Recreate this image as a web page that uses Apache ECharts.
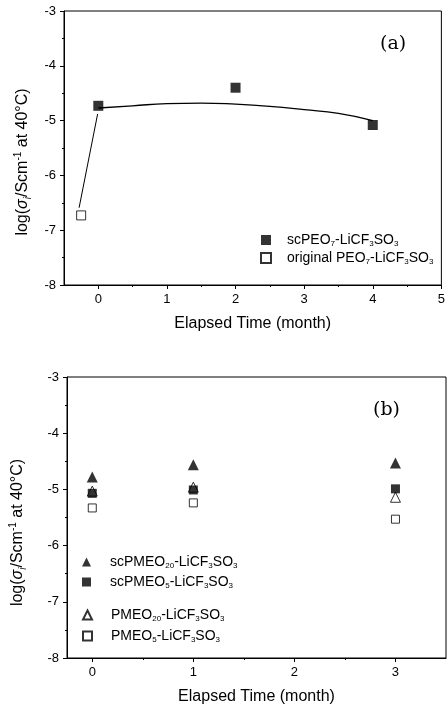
<!DOCTYPE html>
<html>
<head>
<meta charset="utf-8">
<script src="https://cdn.jsdelivr.net/npm/echarts@6/dist/echarts.min.js"></script>
<style>
html,body{margin:0;padding:0;background:#fff;}
#c{width:448px;height:707px;}
</style>
</head>
<body>
<div id="c"></div>
<script>
// ---- Panel (a) data ----
const aScX = [0, 2, 4];
const aScY = [-4.73, -4.40, -5.08];
const aOrigX = [-0.25];
const aOrigY = [-6.73];
const aFitX = [0, 0.5, 1, 1.5, 2, 2.5, 3, 3.5, 4];
const aFitY = [-4.77, -4.73, -4.69, -4.68, -4.70, -4.74, -4.80, -4.87, -5.00];
const aArrowX = [-0.28, -0.01];
const aArrowY = [-6.59, -4.88];
const aXTicks = [0, 1, 2, 3, 4, 5];
const aXMinor = [0.5, 1.5, 2.5, 3.5, 4.5];

// ---- Panel (b) data ----
const bX = [0, 1, 3];
const bScPMEO20 = [-4.78, -4.56, -4.53];
const bScPMEO5 = [-5.07, -5.01, -4.99];
const bPMEO20 = [-5.03, -4.96, -5.14];
const bPMEO5 = [-5.33, -5.24, -5.53];
const bXTicks = [0, 1, 2, 3];
const bXMinor = [0.5, 1.5, 2.5];

const names = {
  scPEO7: 'scPEO{s|7}-LiCF{s|3}SO{s|3}',
  origPEO7: 'original PEO{s|7}-LiCF{s|3}SO{s|3}',
  scPMEO20: 'scPMEO{s|20}-LiCF{s|3}SO{s|3}',
  scPMEO5: 'scPMEO{s|5}-LiCF{s|3}SO{s|3}',
  PMEO20: 'PMEO{s|20}-LiCF{s|3}SO{s|3}',
  PMEO5: 'PMEO{s|5}-LiCF{s|3}SO{s|3}'
};

const FONT = 'Liberation Sans';
const zip = (xs, ys) => xs.map((x, i) => [x, ys[i]]);

const legendText = (padL) => ({
  color: '#000', fontFamily: FONT, fontSize: 14, lineHeight: 16,
  padding: [0, 0, 0, padL],
  rich: { s: { fontFamily: FONT, fontSize: 8, lineHeight: 8, verticalAlign: 'bottom', color: '#000' } }
});
const yName = 'log({i|σ}{sub|i}/Scm{sup|-1} at 40°C)';
const yNameStyle = (pad) => ({
  color: '#000', fontFamily: FONT, fontSize: 16, lineHeight: 20,
  padding: [0, pad, 0, 0],
  rich: {
    i: { fontFamily: FONT, fontSize: 16, fontStyle: 'italic', color: '#000' },
    sub: { fontFamily: FONT, fontSize: 10, lineHeight: 10, fontStyle: 'italic', verticalAlign: 'bottom', color: '#000' },
    sup: { fontFamily: FONT, fontSize: 10, lineHeight: 10, verticalAlign: 'top', padding: [0, 0, 3, 0], color: '#000' }
  }
});

const blackLine = { color: '#000', width: 1 };

function yAxis(gridIndex, gap, pad) {
  return {
    type: 'value', gridIndex, min: -8, max: -3, interval: 1,
    name: yName, nameLocation: 'middle', nameGap: gap, nameRotate: 90,
    nameTextStyle: yNameStyle(pad),
    axisLine: { show: true, onZero: false, lineStyle: blackLine },
    axisTick: { show: true, length: 4, lineStyle: blackLine },
    minorTick: { show: true, splitNumber: 2, length: 2, lineStyle: blackLine },
    axisLabel: { color: '#000', fontFamily: FONT, fontSize: 13, margin: 8 },
    splitLine: { show: false }
  };
}
function xAxisMain(gridIndex, min, max, ticks) {
  return {
    type: 'value', gridIndex, min, max,
    name: 'Elapsed Time (month)', nameLocation: 'middle', nameGap: 31,
    nameTextStyle: { color: '#000', fontFamily: FONT, fontSize: 16 },
    axisLine: { show: true, onZero: false, lineStyle: blackLine },
    axisTick: { show: true, length: 4, customValues: ticks, lineStyle: blackLine },
    axisLabel: { color: '#000', fontFamily: FONT, fontSize: 13, margin: 8, customValues: ticks },
    splitLine: { show: false }
  };
}
function xAxisMinor(gridIndex, min, max, ticks) {
  return {
    type: 'value', gridIndex, min, max, position: 'bottom',
    axisLine: { show: false, onZero: false },
    axisTick: { show: true, length: 2, customValues: ticks, lineStyle: blackLine },
    axisLabel: { show: false, customValues: ticks },
    splitLine: { show: false }
  };
}

const openSq = { color: '#fff', borderColor: '#000', borderWidth: 1 };
const filled = { color: '#000' };

const option = {
  backgroundColor: '#fff',
  animation: false,
  grid: [
    { left: 64, top: 11, right: 4, height: 274, show: true, borderColor: '#000', borderWidth: 1, backgroundColor: 'transparent' },
    { left: 62, top: 377, right: 2, height: 281, show: true, borderColor: '#000', borderWidth: 1, backgroundColor: 'transparent' }
  ],
  xAxis: [
    xAxisMain(0, -0.5, 5, aXTicks),
    xAxisMinor(0, -0.5, 5, aXMinor),
    xAxisMain(1, -0.25, 3.5, bXTicks),
    xAxisMinor(1, -0.25, 3.5, bXMinor)
  ],
  yAxis: [yAxis(0, 31, 28), yAxis(1, 39, 30)],
  legend: [
    {
      orient: 'vertical', left: 260, top: 232, padding: 0, itemGap: 2,
      itemWidth: 10, itemHeight: 10, textStyle: legendText(11),
      data: ['scPEO7', 'origPEO7'],
      formatter: (n) => names[n]
    },
    {
      orient: 'vertical', left: 82, top: 554, padding: 0, itemGap: 4,
      itemWidth: 9, itemHeight: 9, textStyle: legendText(14),
      data: ['scPMEO20', 'scPMEO5'],
      formatter: (n) => names[n]
    },
    {
      orient: 'vertical', left: 82, top: 607, padding: 0, itemGap: 5,
      itemWidth: 9, itemHeight: 9, textStyle: legendText(14),
      data: ['PMEO20', 'PMEO5'],
      formatter: (n) => names[n]
    }
  ],
  series: [
    { name: 'fit', type: 'line', xAxisIndex: 0, yAxisIndex: 0, data: zip(aFitX, aFitY), smooth: true,
      showSymbol: false, symbol: 'none', lineStyle: { color: '#000', width: 1.3 }, silent: true, z: 1 },
    { name: 'arrow', type: 'line', xAxisIndex: 0, yAxisIndex: 0, data: zip(aArrowX, aArrowY),
      showSymbol: false, symbol: 'none',
      lineStyle: { color: '#000', width: 1 }, silent: true, z: 1 },
    { name: 'scPEO7', type: 'scatter', xAxisIndex: 0, yAxisIndex: 0, data: zip(aScX, aScY),
      symbol: 'rect', symbolSize: 10, itemStyle: filled, z: 3 },
    { name: 'origPEO7', type: 'scatter', xAxisIndex: 0, yAxisIndex: 0, data: zip(aOrigX, aOrigY),
      symbol: 'rect', symbolSize: 9, itemStyle: openSq, z: 3 },

    { name: 'PMEO20', type: 'scatter', xAxisIndex: 2, yAxisIndex: 1, data: zip(bX, bPMEO20),
      symbol: 'triangle', symbolSize: 10, itemStyle: openSq, z: 2 },
    { name: 'PMEO5', type: 'scatter', xAxisIndex: 2, yAxisIndex: 1, data: zip(bX, bPMEO5),
      symbol: 'rect', symbolSize: 8, itemStyle: openSq, z: 2 },
    { name: 'scPMEO20', type: 'scatter', xAxisIndex: 2, yAxisIndex: 1, data: zip(bX, bScPMEO20),
      symbol: 'triangle', symbolSize: 11, itemStyle: filled, z: 3 },
    { name: 'scPMEO5', type: 'scatter', xAxisIndex: 2, yAxisIndex: 1, data: zip(bX, bScPMEO5),
      symbol: 'rect', symbolSize: 9, itemStyle: filled, z: 3 }
  ],
  graphic: [
    { type: 'text', left: 380, top: 35, style: { text: '(a)', fontFamily: 'DejaVu Serif', fontSize: 19, fill: '#000' } },
    { type: 'text', left: 373, top: 401, style: { text: '(b)', fontFamily: 'DejaVu Serif', fontSize: 19, fill: '#000' } }
  ]
};

const chart = echarts.init(document.getElementById('c'), null, { renderer: 'canvas' });
chart.setOption(option);
</script>
</body>
</html>
